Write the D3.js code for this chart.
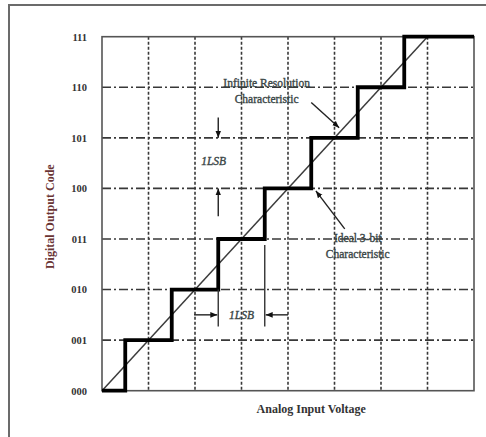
<!DOCTYPE html>
<html>
<head>
<meta charset="utf-8">
<script src="https://cdn.jsdelivr.net/npm/d3@7"></script>
<style>
  body { margin: 0; background: #fff; }
  text { font-family: "Liberation Serif", "DejaVu Serif", serif; }
</style>
</head>
<body>
<svg id="chart" width="486" height="437"></svg>
<script>
// output codes, one per LSB step
var codes = ['000', '001', '010', '011', '100', '101', '110', '111']
// analog input (in LSB) where the ideal converter moves to the next code
var transitions = [0.5, 1.5, 2.5, 3.5, 4.5, 5.5, 6.5]
// full scale of the input axis, in LSB
var inputMax = 8

var width = 486
var height = 437
var padding = {top: 36.7, bottom: 46.3, left: 102, right: 12}

var svg = d3.select('#chart')

// outer frame of the figure
svg.append('rect')
    .attr('x', 9).attr('y', 5)
    .attr('width', 500).attr('height', 460)
    .attr('fill', 'none')
    .attr('stroke', '#6b6b6b')
    .attr('stroke-width', 2)

var innerw = width - padding.left - padding.right
var innerh = height - padding.top - padding.bottom

var g = svg.append('g')
    .attr('transform', `translate(${padding.left},${padding.top})`)

/*
    --------------------------------------
    Scales
*/
var mapx = d3.scaleLinear()
    .domain([0, inputMax])
    .range([0, innerw])

var mapy = d3.scaleLinear()
    .domain([0, codes.length - 1])
    .range([innerh, 0])

/*
    --------------------------------------
    Grid
*/
var grid = g.append('g').classed('grid', true)

grid.selectAll('.vline')
    .data(d3.range(1, inputMax))
  .enter().append('line')
    .classed('vline', true)
    .attr('x1', d => mapx(d)).attr('x2', d => mapx(d))
    .attr('y1', 0).attr('y2', innerh)
    .attr('stroke', '#383838')
    .attr('stroke-width', 1.6)
    .attr('stroke-dasharray', '3,2')

grid.selectAll('.hline')
    .data(d3.range(1, codes.length - 1))
  .enter().append('line')
    .classed('hline', true)
    .attr('x1', 0).attr('x2', innerw)
    .attr('y1', d => mapy(d)).attr('y2', d => mapy(d))
    .attr('stroke', '#383838')
    .attr('stroke-width', 1.6)
    .attr('stroke-dasharray', '9,3,2,3')

g.append('rect')
    .attr('width', innerw)
    .attr('height', innerh)
    .attr('fill', 'none')
    .attr('stroke', '#555')
    .attr('stroke-width', 1.6)

/*
    --------------------------------------
    Axis Y (codes)
*/
var y_axis = d3.axisLeft(mapy)
    .tickValues(d3.range(codes.length))
    .tickFormat(i => codes[i])
    .tickSize(0)
    .tickPadding(15)

var yax = g.append('g').classed('ax y', true).call(y_axis)
yax.select('.domain').remove()
yax.selectAll('text')
    .attr('font-family', '"Liberation Serif", serif')
    .attr('font-size', 10.5)
    .attr('font-weight', 'bold')
    .attr('fill', '#333')

svg.append('text')
    .attr('transform', `translate(54,${padding.top + innerh / 2 + 3}) rotate(-90)`)
    .attr('text-anchor', 'middle')
    .attr('font-size', 12)
    .attr('font-weight', 'bold')
    .attr('fill', '#6a3434')
    .text('Digital Output Code')

svg.append('text')
    .attr('x', padding.left + mapx(4.5))
    .attr('y', 413)
    .attr('text-anchor', 'middle')
    .attr('font-size', 12)
    .attr('font-weight', 'bold')
    .attr('fill', '#333')
    .text('Analog Input Voltage')

/*
    --------------------------------------
    Characteristics
*/
var diag = d3.line()
    .x(d => mapx(d))
    .y(d => mapy(d))

g.append('path')
    .attr('d', diag([0, codes.length - 1]))
    .attr('fill', 'none')
    .attr('stroke', '#3c3c3c')
    .attr('stroke-width', 1.5)

var stairPts = [[0, 0]]
    .concat(transitions.map((t, i) => [t, i + 1]))
    .concat([[inputMax, codes.length - 1]])

var stair = d3.line()
    .x(d => mapx(d[0]))
    .y(d => mapy(d[1]))
    .curve(d3.curveStepAfter)

g.append('path')
    .attr('d', stair(stairPts))
    .attr('fill', 'none')
    .attr('stroke', '#000')
    .attr('stroke-width', 3.8)
    .attr('stroke-linejoin', 'miter')

/*
    --------------------------------------
    Annotations
*/
svg.append('defs').append('marker')
    .attr('id', 'head')
    .attr('viewBox', '0 0 10 10')
    .attr('refX', 10).attr('refY', 5)
    .attr('markerWidth', 7).attr('markerHeight', 7)
    .attr('markerUnits', 'userSpaceOnUse')
    .attr('orient', 'auto')
  .append('path')
    .attr('d', 'M0,1L10,5L0,9Z')
    .attr('fill', '#111')

function arrow (x1, y1, x2, y2) {
  g.append('line')
      .attr('x1', mapx(x1)).attr('y1', mapy(y1))
      .attr('x2', mapx(x2)).attr('y2', mapy(y2))
      .attr('stroke', '#222')
      .attr('stroke-width', 1.4)
      .attr('marker-end', 'url(#head)')
}

function note (x, y, lines, italic) {
  var t = g.append('text')
      .attr('x', mapx(x)).attr('y', mapy(y))
      .attr('text-anchor', 'middle')
      .attr('font-size', 11.5)
      .attr('fill', '#3a4646')
      .attr('stroke', '#3a4646')
      .attr('stroke-width', 0.35)
      .attr('font-style', italic ? 'italic' : 'normal')
  lines.forEach((s, i) => {
    t.append('tspan')
        .attr('x', mapx(x))
        .attr('dy', i ? 16 : 0)
        .text(s)
  })
}

note(3.54, 6.0, ['Infinite Resolution', 'Characteristic'])
arrow(4.5, 5.7, 5.1, 5.2)

note(5.5, 2.95, ['Ideal 3-bit', 'Characteristic'])
arrow(5.22, 3.2, 4.6, 3.95)

// 1 LSB along the code axis
note(2.4, 4.47, ['1LSB'], true)
arrow(2.5, 5.4, 2.5, 5.0)
arrow(2.5, 3.45, 2.5, 4.0)

// 1 LSB along the input axis
note(3.0, 1.42, ['1LSB'], true)
g.append('line')
    .attr('x1', mapx(2.5)).attr('x2', mapx(2.5))
    .attr('y1', mapy(2)).attr('y2', mapy(1.27))
    .attr('stroke', '#333').attr('stroke-width', 1.4)
g.append('line')
    .attr('x1', mapx(3.5)).attr('x2', mapx(3.5))
    .attr('y1', mapy(2.88)).attr('y2', mapy(1.27))
    .attr('stroke', '#333').attr('stroke-width', 1.4)
arrow(1.98, 1.5, 2.48, 1.5)
arrow(4.0, 1.5, 3.52, 1.5)
</script>
</body>
</html>
